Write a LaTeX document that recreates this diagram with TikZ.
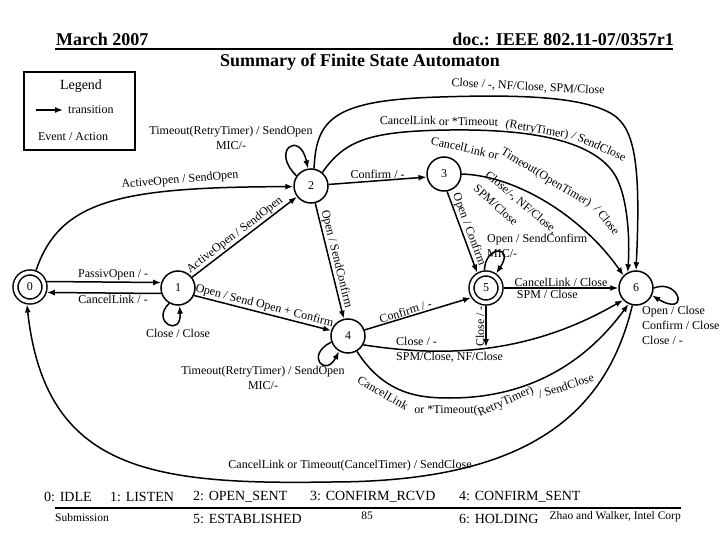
\documentclass[tikz,border=0pt]{standalone}
\usepackage{fontspec}
\setmainfont{Liberation Serif}
\usetikzlibrary{arrows.meta,positioning}
\newcommand\lab{\fontsize{12}{15}\selectfont}
\newcommand\hdr{\fontsize{18}{20}\selectfont\bfseries}
\newcommand\sname{\fontsize{14}{16}\selectfont}
\newcommand\foot{\fontsize{11.5}{13}\selectfont}
\tikzset{
  state/.style = {circle, draw, line width=1.5pt, minimum size=34pt, inner sep=0pt, font=\lab},
  accept/.style = {state, double, double distance=3.5pt, minimum size=29pt, outer sep=3.25pt},
  trans/.style = {line width=1.5pt, -{Latex[length=8pt,width=6pt]}},
  elabel/.style = {font=\lab, inner sep=1pt},
  txt/.style = {inner sep=1pt},
}

\begin{document}
\begin{tikzpicture}[x=1pt, y=-1pt]
\useasboundingbox[fill=white] (0,0) rectangle (720,540);

% header
\node[txt, font=\hdr, anchor=west] (month) at (55,39) {March 2007};
\node[txt, font=\hdr, anchor=east] (doc) at (675,39) {doc.: IEEE 802.11-07/0357r1};
\draw[line width=1.5pt] (55,49) -- (673,49);
\node[txt, font=\hdr] (title) at (360,62) {Summary of Finite State Automaton};

% legend
\draw[line width=2.5pt] (24,72) rectangle (135,150);
\node[txt, font=\fontsize{14}{16}\selectfont] (lgd) at (81,86) {Legend};
\coordinate (lgA) at (36,110);
\coordinate (lgB) at (63,110);
\draw[trans] (lgA) -- (lgB);
\node[elabel, anchor=west] (lgt) at (67,110) {transition};
\node[elabel] (lge) at (73,137) {Event / Action};

% states
\node[accept] (s0) at (30,287) {0};
\node[state] (s1) at (178,288) {1};
\node[state] (s2) at (311,186) {2};
\node[state] (s3) at (444,174) {3};
\node[state] (s4) at (348,336) {4};
\node[accept] (s5) at (486,288) {5};
\node[state] (s6) at (636,288) {6};

% 0 and 1
\draw[trans] (s0.18) -- node[elabel, above, pos=.58] (l01) {PassivOpen / -} (s1.162);
\draw[trans] (s1.198) -- node[elabel, below, pos=.42] (l10) {CancelLink / -} (s0.-18);
\draw[trans] (s0.70) .. controls (60,200) and (120,187) .. (s2.182);
\node[elabel, rotate=5] (l02) at (180,180) {ActiveOpen / SendOpen};
\draw[trans] (s1.240) .. controls (150,322) and (182,338) .. (s1.275);
\node[elabel, below=22pt of s1] (l11) {Close / Close};

% 1 and 2 onwards
\draw[trans] (s1) -- node[elabel, sloped, above, pos=.45] (l12) {ActiveOpen / SendOpen} (s2);
\draw[trans] (s1.-25) -- node[elabel, sloped, above] (l14) {Open / Send Open + Confirm} (s4.162);
\draw[trans] (s2) -- node[elabel, sloped, above] (l24) {Open / SendConfirm} (s4);
\draw[trans] (s2.5) -- node[elabel, above] (l23) {Confirm / -} (s3.190);
\draw[trans] (s2.145) .. controls (270,150) and (300,130) .. (s2.100);
\node[elabel, align=center] (l22) at (231,138) {Timeout(RetryTimer) / SendOpen\\MIC/-};

% 2 to 6, outer and middle
\draw[trans] (s2.80) .. controls (316,118) and (335,100) .. (440,97)
  .. controls (530,94) and (585,98) .. (612,114)
  .. controls (635,128) and (641,165) .. (s6.90);
\node[elabel, rotate=-3] (l26a) at (528,87) {Close / -, NF/Close, SPM/Close};
\draw[trans] (s2.50) .. controls (345,140) and (370,131) .. (450,130)
  .. controls (530,129) and (590,140) .. (613,172)
  .. controls (628,193) and (630,240) .. (s6.118);
\node[elabel, rotate=-1] (l26b) at (439,121) {CancelLink or *Timeout};
\node[elabel, rotate=-10] (l26c) at (537,130) {(RetryTimer)};
\node[elabel, rotate=-24] (l26d) at (599,146) {/ SendClose};

% 3
\draw[trans] (s3.-80) -- node[elabel, sloped, above] (l35) {Open / Confirm} (s5.120);
\draw[trans] (s3.east) .. controls (520,176) and (585,220) .. (s6.135);
\node[elabel, rotate=-13] (l36a) at (465,148) {CancelLink or};
\node[elabel, rotate=-31] (l36d) at (546,178) {Timeout(OpenTimer)};
\node[elabel, rotate=-52] (l36e) at (607,220) {/ Close};
\node[elabel, rotate=-40] (l36b) at (521,203) {Close/-, NF/Close,};
\node[elabel, rotate=-42] (l36c) at (496,205) {SPM/Close};

% 4
\draw[trans] (s4.20) -- node[elabel, sloped, above, pos=.4] (l45) {Confirm / -} (s5.213);
\draw[trans] (s4.200) .. controls (305,355) and (325,378) .. (s4.240);
\node[elabel, align=center] (l44) at (263,378) {Timeout(RetryTimer) / SendOpen\\MIC/-};
\draw[trans] (s4.-30) .. controls (430,355) and (520,360) .. (s6.223);
\node[elabel, align=left, anchor=west] (l46a) at (395,350) {Close / -\\SPM/Close, NF/Close};
\draw[trans] (s4.-60) .. controls (385,395) and (420,398) .. (450,398)
  .. controls (520,398) and (580,370) .. (s6.245);
\node[elabel, rotate=-30] (l46b) at (383,393) {CancelLink};
\node[elabel] (l46c) at (446,411) {or *Timeout(};
\node[elabel, rotate=24] (l46d) at (506,402) {RetryTimer)};
\node[elabel, rotate=18] (l46e) at (566,386) {/ SendClose};

% 5
\draw[trans] (s5) -- node[elabel, above] (l56a) {CancelLink / Close}
  node[elabel, below, pos=.38] (l56b) {SPM / Close} (s6);
\coordinate (c5) at (486,347);
\draw[trans] (s5) -- node[elabel, rotate=90, above] (l5c) {Close / -} (c5);
\draw[trans] (s5.95) .. controls (485,245) and (515,245) .. (s5.55);
\node[elabel, align=left, anchor=west] (l55) at (486,246) {Open / SendConfirm\\MIC/-};

% 6
\draw[trans] (s6.0) .. controls (680,278) and (690,318) .. (s6.-25);
\node[elabel, align=left, anchor=west] (l66) at (641,325) {Open / Close\\Confirm / Close\\Close / -};
\draw[trans] (s6.258) .. controls (605,420) and (520,482) .. (330,482)
  .. controls (150,485) and (45,470) .. (s0.-100);
\node[elabel] (l60) at (350,466) {CancelLink or Timeout(CancelTimer) / SendClose};

% state names
\node[txt, font=\sname, anchor=west] (n0) at (43,497) {0: IDLE};
\node[txt, font=\sname, anchor=west] (n1) at (109,497) {1: LISTEN};
\node[txt, font=\sname, anchor=west] (n2) at (192,497) {2: OPEN\_SENT};
\node[txt, font=\sname, anchor=west] (n3) at (309,497) {3: CONFIRM\_RCVD};
\node[txt, font=\sname, anchor=west] (n4) at (458,497) {4: CONFIRM\_SENT};
\draw[line width=1.5pt] (55,508) -- (681,508);
\node[txt, font=\foot, anchor=west] (subm) at (54,518) {Submission};
\node[txt, font=\sname, anchor=west] (n5) at (192,519) {5: ESTABLISHED};
\node[txt, font=\foot] (pg) at (367,516) {85};
\node[txt, font=\sname, anchor=west] (n6) at (458,519) {6: HOLDING};
\node[txt, font=\foot, anchor=east] (auth) at (682,517) {Zhao and Walker, Intel Corp};
\end{tikzpicture}
\end{document}
